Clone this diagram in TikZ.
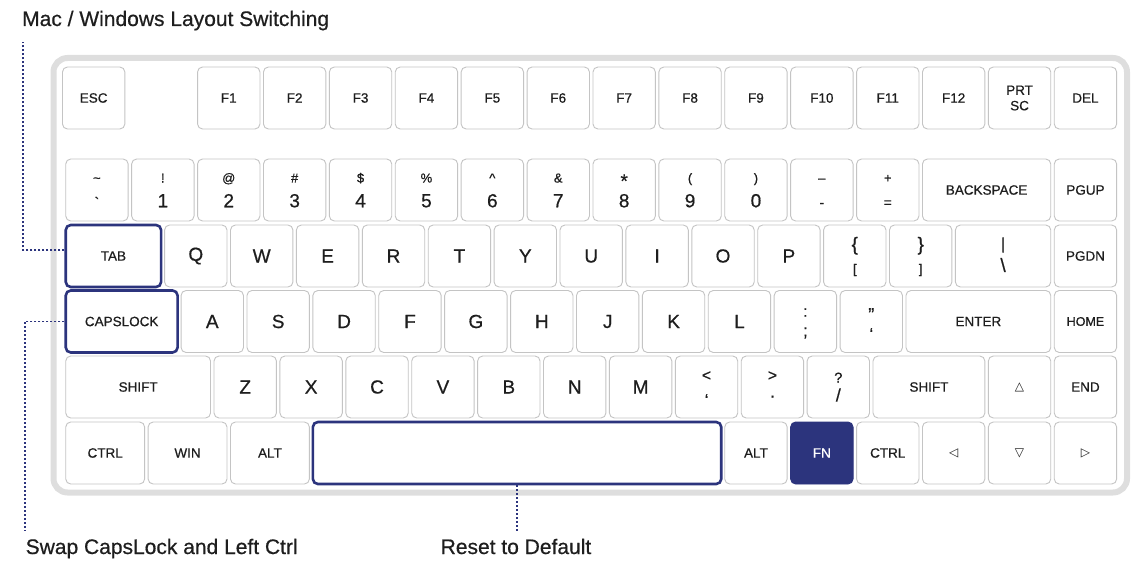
\documentclass[tikz,border=0pt]{standalone}
\usepackage{fontspec}
\setmainfont{Liberation Sans}[FakeBold=0.6]
\newfontfamily\symfont{DejaVu Sans}
\definecolor{navy}{RGB}{44,52,125}
\definecolor{keyline}{RGB}{196,196,196}
\definecolor{caseline}{RGB}{222,222,222}
\definecolor{ink}{RGB}{30,30,30}
\tikzset{
  fs/.style={font=\fontsize{#1}{#1}\selectfont},
  keybox/.style={draw=keyline, line width=0.9pt, fill=white, rounded corners=5pt,
    minimum height=62pt, inner sep=0pt, text=ink, fs=13.5},
  big/.style={fs=19},
  hilite/.style={draw=navy, line width=2.6pt},
  fnkey/.style={draw=navy, fill=navy, text=white},
  sym/.style={inner sep=0pt, text=ink},
  top1/.style={sym, anchor=base, yshift=7.5pt, fs=13},
  bot1/.style={sym, anchor=base, yshift=-17.3pt, fs=19},
  bot1s/.style={sym, anchor=base, yshift=-17.3pt, fs=14},
  leader/.style={draw=navy, line width=1.3pt, dash pattern=on 2pt off 2pt},
  caption/.style={inner sep=0pt, anchor=base west, text=ink, fs=21},
  arrowlab/.style={font=\symfont\fontsize{12}{12}\selectfont},
}
\newcommand\kbkey[6][]{%
  \pgfmathsetmacro\kbx{64+(#3+#4/2)*65.9}%
  \pgfmathsetmacro\kbw{#4*65.9-3.5}%
  \node[keybox,minimum width=\kbw pt,#1] (#2) at (\kbx,#5+31) {#6};}
\begin{document}
\begin{tikzpicture}[x=1pt,y=-1pt]
\useasboundingbox (0,0) rectangle (1145,578);
% case
\draw[draw=caseline, line width=6pt, fill=white, rounded corners=14pt] (53.5,58) rectangle (1127,492.5);
% row 0
\kbkey{esc}{-0.05}{1}{67}{ESC}
\foreach \i in {1,...,12} {\kbkey{f\i}{1+\i}{1}{67}{F\i}}
\kbkey[align=center,font=\fontsize{13.5}{15.5}\selectfont]{prtsc}{14}{1}{67}{PRT\\SC}
\kbkey{del}{15}{1}{67}{DEL}
% row 1
\kbkey{tilde}{0}{1}{159}{}
\node[top1] (tildet) at (tilde.center) {\textasciitilde};
\node[bot1s] (tildeb) at (tilde.center) {\textasciigrave};
\foreach \d/\s [count=\i] in {1/!,2/@,3/\#,4/\$,5/\%,6/\^{},7/\&,9/(,0/)} {
  \ifnum\i>7 \pgfmathtruncatemacro\pos{\i+1}\else \pgfmathtruncatemacro\pos{\i}\fi
  \kbkey{n\d}{\pos}{1}{159}{}
  \node[top1] (n\d t) at (n\d.center) {\s};
  \node[bot1] (n\d b) at (n\d.center) {\d};
}
\kbkey{n8}{8}{1}{159}{}
\node[top1, fs=19, yshift=-5pt] (n8t) at (n8.center) {*};
\node[bot1] (n8b) at (n8.center) {8};
\kbkey{minus}{11}{1}{159}{}
\node[top1] (minust) at (minus.center) {–};
\node[bot1s] (minusb) at (minus.center) {-};
\kbkey{equal}{12}{1}{159}{}
\node[top1] (equalt) at (equal.center) {+};
\node[bot1s] (equalb) at (equal.center) {=};
\kbkey{bksp}{13}{2}{159}{BACKSPACE}
\kbkey{pgup}{15}{1}{159}{PGUP}
% row 2
\kbkey[hilite]{tab}{0}{1.5}{225}{TAB}
\foreach \L [count=\i from 0] in {Q,W,E,R,T,Y,U,I,O,P} {\kbkey[big]{k\L}{1.5+\i}{1}{225}{\L}}
\kbkey{lbr}{11.5}{1}{225}{}
\node[sym, fs=19, yshift=10.3pt] (lbrt) at (lbr.center) {\{};
\node[sym, fs=13, yshift=-14pt] (lbrb) at (lbr.center) {[};
\kbkey{rbr}{12.5}{1}{225}{}
\node[sym, fs=19, yshift=10.3pt] (rbrt) at (rbr.center) {\}};
\node[sym, fs=13, yshift=-14pt] (rbrb) at (rbr.center) {]};
\kbkey{bsl}{13.5}{1.5}{225}{}
\node[sym, fs=16, yshift=11pt] (bslt) at (bsl.center) {|};
\node[sym, fs=19, yshift=-9pt] (bslb) at (bsl.center) {\textbackslash};
\kbkey{pgdn}{15}{1}{225}{PGDN}
% row 3
\kbkey[hilite]{caps}{0}{1.75}{290.5}{CAPSLOCK}
\foreach \L [count=\i from 0] in {A,S,D,F,G,H,J,K,L} {\kbkey[big]{k\L}{1.75+\i}{1}{290.5}{\L}}
\kbkey{semi}{10.75}{1}{290.5}{}
\node[sym, fs=16, yshift=9pt] (semit) at (semi.center) {:};
\node[sym, fs=17, yshift=-11.5pt] (semib) at (semi.center) {;};
\kbkey{quote}{11.75}{1}{290.5}{}
\node[sym, fs=18, anchor=north, yshift=13.5pt] (quotet) at (quote.center) {”};
\node[sym, fs=16, anchor=north, yshift=-6.5pt] (quoteb) at (quote.center) {‘};
\kbkey{enter}{12.75}{2.25}{290.5}{ENTER}
\kbkey[fs=12.5]{home}{15}{1}{290.5}{HOME}
% row 4
\kbkey{lshift}{0}{2.25}{356}{SHIFT}
\foreach \L [count=\i from 0] in {Z,X,C,V,B,N,M} {\kbkey[big]{k\L}{2.25+\i}{1}{356}{\L}}
\kbkey{comma}{9.25}{1}{356}{}
\node[sym, fs=16, yshift=11pt] (commat) at (comma.center) {<};
\node[sym, fs=16, anchor=north, yshift=-7pt] (commab) at (comma.center) {‘};
\kbkey{period}{10.25}{1}{356}{}
\node[sym, fs=16, yshift=11pt] (periodt) at (period.center) {>};
\node[sym, fs=18, anchor=base, yshift=-10.5pt] (periodb) at (period.center) {.};
\kbkey{slash}{11.25}{1}{356}{}
\node[sym, fs=14.5, anchor=base, yshift=4.3pt] (slasht) at (slash.center) {?};
\node[sym, fs=18, yshift=-8pt] (slashb) at (slash.center) {/};
\kbkey{rshift}{12.25}{1.75}{356}{SHIFT}
\kbkey[arrowlab]{up}{14}{1}{356}{△}
\kbkey{end}{15}{1}{356}{END}
% row 5
\kbkey{lctrl}{0}{1.25}{422}{CTRL}
\kbkey{win}{1.25}{1.25}{422}{WIN}
\kbkey{lalt}{2.5}{1.25}{422}{ALT}
\kbkey[hilite]{space}{3.75}{6.25}{422}{}
\kbkey{ralt}{10}{1}{422}{ALT}
\kbkey[fnkey]{fn}{11}{1}{422}{FN}
\kbkey{rctrl}{12}{1}{422}{CTRL}
\kbkey[arrowlab]{left}{13}{1}{422}{◁}
\kbkey[arrowlab]{down}{14}{1}{422}{▽}
\kbkey[arrowlab]{right}{15}{1}{422}{▷}
% captions
\node[caption] (title) at (22,26) {Mac / Windows Layout Switching};
\node[caption] (swap) at (25.5,554) {Swap CapsLock and Left Ctrl};
\node[caption] (reset) at (440.5,554) {Reset to Default};
% leaders
\coordinate (tabend) at (23,42);
\coordinate (capsend) at (25,531);
\coordinate (spaceend) at (space.south |- 0,532);
\draw[leader] ([yshift=6pt]tab.west) -| (tabend);
\draw[leader] (caps.west) -| (capsend);
\draw[leader] (space.south) -- (spaceend);
\end{tikzpicture}
\end{document}
